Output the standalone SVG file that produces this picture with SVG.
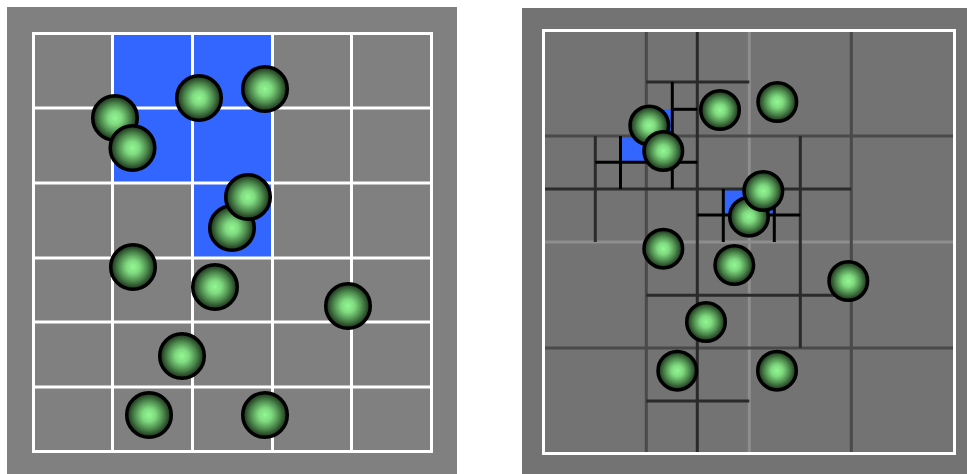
<svg xmlns="http://www.w3.org/2000/svg" width="967" height="474" viewBox="0 0 967 474">
<defs>
<radialGradient id="ballGrad" cx="50%" cy="50%" r="50%">
<stop offset="0%" stop-color="#92f792"/>
<stop offset="30%" stop-color="#7fda7f"/>
<stop offset="65%" stop-color="#4c884c"/>
<stop offset="100%" stop-color="#182a18"/>
</radialGradient>
</defs>
<style>
.wl{stroke:#ffffff;stroke-width:3;fill:none}
.blue{fill:#3366ff}
.ballL{fill:url(#ballGrad);stroke:#000;stroke-width:3.5}
.ballR{fill:url(#ballGrad);stroke:#000;stroke-width:3.5}
.l1{stroke:#8e8e8e;stroke-width:3}
.l2{stroke:#4a4a4a;stroke-width:3}
.l3{stroke:#2a2a2a;stroke-width:3}
.l4{stroke:#000000;stroke-width:3}
</style>

<g id="left-panel">
<rect x="7" y="7" width="450" height="467" fill="#808080"/>
<rect class="blue" x="112.5" y="33.5" width="80" height="149.5"/>
<rect class="blue" x="192.5" y="33.5" width="80" height="224.5"/>
<g id="left-grid" class="wl">
<rect x="33.5" y="33.5" width="398" height="418"/>
<line x1="112.5" y1="33.5" x2="112.5" y2="451.5"/>
<line x1="192.5" y1="33.5" x2="192.5" y2="451.5"/>
<line x1="272.5" y1="33.5" x2="272.5" y2="451.5"/>
<line x1="351.5" y1="33.5" x2="351.5" y2="451.5"/>
<line x1="33.5" y1="108" x2="431.5" y2="108"/>
<line x1="33.5" y1="183" x2="431.5" y2="183"/>
<line x1="33.5" y1="258" x2="431.5" y2="258"/>
<line x1="33.5" y1="322" x2="431.5" y2="322"/>
<line x1="33.5" y1="387" x2="431.5" y2="387"/>
</g>
<g id="left-balls">
<circle class="ballL" cx="115" cy="118" r="22.3"/>
<circle class="ballL" cx="132.5" cy="148" r="22.3"/>
<circle class="ballL" cx="199" cy="98" r="22.3"/>
<circle class="ballL" cx="265" cy="89" r="22.3"/>
<circle class="ballL" cx="232" cy="228" r="22.3"/>
<circle class="ballL" cx="248" cy="197" r="22.3"/>
<circle class="ballL" cx="133" cy="267" r="22.3"/>
<circle class="ballL" cx="215" cy="287" r="22.3"/>
<circle class="ballL" cx="348" cy="306" r="22.3"/>
<circle class="ballL" cx="182" cy="356" r="22.3"/>
<circle class="ballL" cx="149" cy="415" r="22.3"/>
<circle class="ballL" cx="265" cy="415" r="22.3"/>
</g>
</g>

<g id="right-panel">
<rect x="522" y="8" width="445" height="466" fill="#737373"/>
<rect class="blue" x="620.5" y="136" width="25.8" height="26.3"/>
<rect class="blue" x="646.3" y="109.3" width="26" height="26.7"/>
<rect class="blue" x="723.3" y="189" width="51" height="26"/>
<g id="tree-lines">
<line class="l1" x1="749.3" y1="30.5" x2="749.3" y2="453.5"/>
<line class="l1" x1="543.5" y1="242" x2="954.5" y2="242"/>
<line class="l2" x1="646.3" y1="30.5" x2="646.3" y2="453.5"/>
<line class="l2" x1="851.3" y1="30.5" x2="851.3" y2="453.5"/>
<line class="l2" x1="543.5" y1="136" x2="954.5" y2="136"/>
<line class="l2" x1="543.5" y1="348" x2="954.5" y2="348"/>
<line class="l3" x1="697.3" y1="30.5" x2="697.3" y2="453.5"/>
<line class="l3" x1="800.3" y1="136" x2="800.3" y2="348"/>
<line class="l3" x1="595.3" y1="136" x2="595.3" y2="242"/>
<line class="l3" x1="646.3" y1="82" x2="749.3" y2="82"/>
<line class="l3" x1="543.5" y1="189" x2="851.3" y2="189"/>
<line class="l3" x1="646.3" y1="295.3" x2="851.3" y2="295.3"/>
<line class="l3" x1="646.3" y1="401" x2="749.3" y2="401"/>
<line class="l4" x1="620.5" y1="136" x2="620.5" y2="189"/>
<line class="l4" x1="672.3" y1="82" x2="672.3" y2="189"/>
<line class="l4" x1="723.3" y1="189" x2="723.3" y2="242"/>
<line class="l4" x1="774.3" y1="189" x2="774.3" y2="242"/>
<line class="l4" x1="672.3" y1="109.3" x2="697.3" y2="109.3"/>
<line class="l4" x1="595.3" y1="162.3" x2="697.3" y2="162.3"/>
<line class="l4" x1="697.3" y1="215" x2="800.3" y2="215"/>
</g>
<rect class="wl" x="543.5" y="30.5" width="411" height="423"/>
<g id="right-balls">
<circle class="ballR" cx="649.3" cy="125.5" r="19.3"/>
<circle class="ballR" cx="663.3" cy="151" r="19.3"/>
<circle class="ballR" cx="720" cy="110" r="19.3"/>
<circle class="ballR" cx="777.3" cy="102" r="19.3"/>
<circle class="ballR" cx="749" cy="216.7" r="19.3"/>
<circle class="ballR" cx="763.3" cy="191" r="19.3"/>
<circle class="ballR" cx="663.3" cy="248.7" r="19.3"/>
<circle class="ballR" cx="734.3" cy="265" r="19.3"/>
<circle class="ballR" cx="848.3" cy="281" r="19.3"/>
<circle class="ballR" cx="706" cy="322" r="19.3"/>
<circle class="ballR" cx="677.3" cy="370.7" r="19.3"/>
<circle class="ballR" cx="777" cy="370.7" r="19.3"/>
</g>
</g>
</svg>
